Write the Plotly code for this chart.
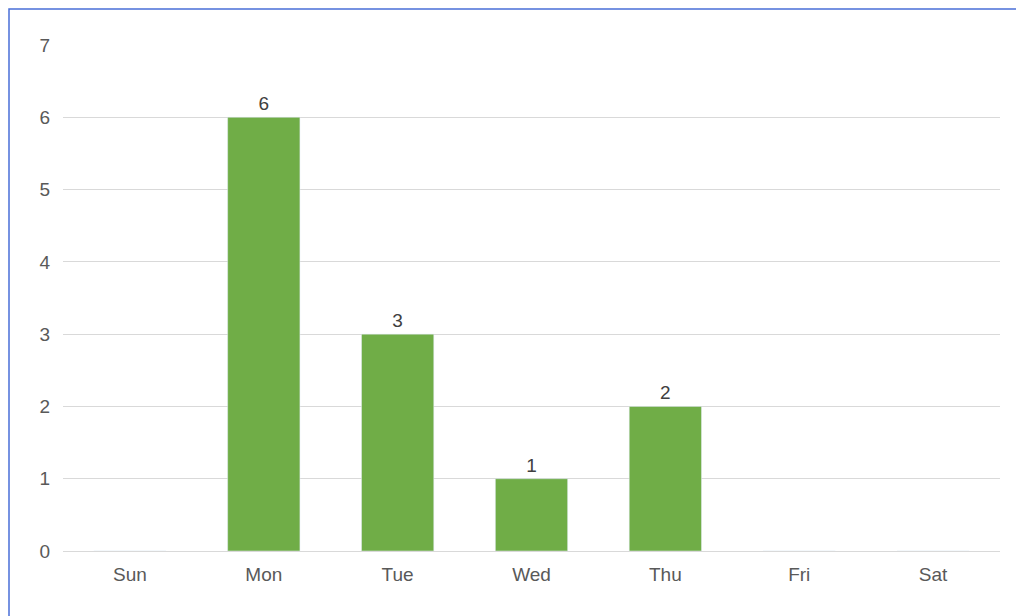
import plotly.graph_objects as go

days = ["Sun", "Mon", "Tue", "Wed", "Thu", "Fri", "Sat"]
counts = [0, 6, 3, 1, 2, 0, 0]
labels = [str(c) if c else "" for c in counts]

W, H = 1024, 616
ml, mr, mt, mb = 55, 32, 37, 73
pw, ph = W - ml - mr, H - mt - mb

fig = go.Figure(go.Bar(
    x=days, y=counts, text=labels, textposition="outside",
    marker_color="#70AD47", width=0.54, cliponaxis=False,
    textfont=dict(size=19, color="#404040"),
))

fig.update_layout(
    width=W, height=H,
    margin=dict(l=ml, r=mr, t=mt, b=mb),
    paper_bgcolor="white", plot_bgcolor="white",
    font=dict(family="Liberation Sans, Arial", size=19, color="#595959"),
    showlegend=False,
    shapes=[dict(type="rect", xref="paper", yref="paper",
                 x0=-(ml - 1) / pw, x1=1 + (mr - 1) / pw,
                 y0=-(mb - 1) / ph, y1=1 + (mt - 1) / ph,
                 line=dict(color="#4A6FD8", width=1.5))],
)
fig.update_yaxes(range=[0, 7], dtick=1, gridcolor="#D9D9D9", zeroline=False,
                 showline=False, ticks="", ticklabelstandoff=12)
fig.update_xaxes(showline=True, linecolor="#D9D9D9", ticks="", ticklabelstandoff=6)

fig.write_html("out.html")
